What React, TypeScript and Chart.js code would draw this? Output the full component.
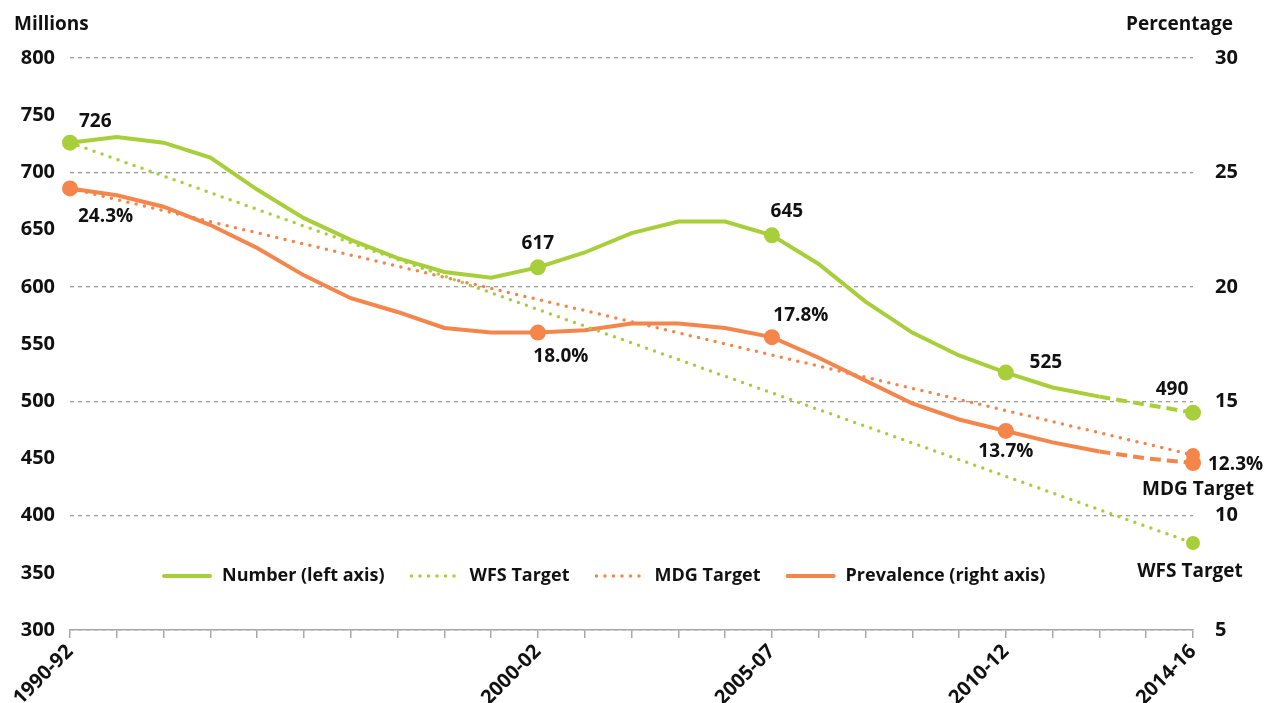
import React, { useEffect, useRef } from "react";
import { Chart, registerables } from "chart.js";

Chart.register(...registerables);

const periods = [
  "1990-92", "1991-93", "1992-94", "1993-95", "1994-96", "1995-97", "1996-98",
  "1997-99", "1998-00", "1999-01", "2000-02", "2001-03", "2002-04", "2003-05",
  "2004-06", "2005-07", "2006-08", "2007-09", "2008-10", "2009-11", "2010-12",
  "2011-13", "2012-14", "2013-15", "2014-16",
];
const labelledPeriods = ["1990-92", "2000-02", "2005-07", "2010-12", "2014-16"];

const numberMillions = [
  726, 731, 726, 713, 685, 660, 641, 625, 613, 608, 617, 630, 647, 657, 657,
  645, 620, 587, 560, 540, 525, 512, 504, 497, 490,
];
const prevalencePct = [
  24.3, 24.0, 23.5, 22.7, 21.7, 20.5, 19.5, 18.9, 18.2, 18.0, 18.0, 18.1, 18.4,
  18.4, 18.2, 17.8, 16.9, 15.9, 14.9, 14.2, 13.7, 13.2, 12.8, 12.5, 12.3,
];
const wfsTargetMillions = [
  726, null, null, null, null, null, null, null, null, null, null, null, null,
  null, null, null, null, null, null, null, null, null, null, null, 376,
];
const mdgTargetPct = [
  24.3, null, null, null, null, null, null, null, null, null, null, null, null,
  null, null, null, null, null, null, null, null, null, null, null, 12.65,
];

const seriesNames = ["Number (left axis)", "WFS Target", "MDG Target", "Prevalence (right axis)"];
const markedPeriods = ["1990-92", "2000-02", "2005-07", "2010-12", "2014-16"];
const projectionFrom = "2012-14";

const leftTitle = "Millions";
const rightTitle = "Percentage";
const leftMin = 300, leftMax = 800, leftStep = 50;
const rightMin = 5, rightMax = 30, rightStep = 5;

const GREEN = "#A8CE3A";
const ORANGE = "#F4854B";
const GRID = "#9d9d9d";
const AXIS = "#a8a8a8";
const TEXT = "#111111";
const FONT = "'Open Sans', 'Noto Sans', sans-serif";

const markedIdx = markedPeriods.map((p) => periods.indexOf(p));
const projIdx = periods.indexOf(projectionFrom);
const lastIdx = periods.length - 1;

const textPlugin = {
  id: "textPlugin",
  afterDraw(chart: any) {
    const { ctx, chartArea } = chart;
    ctx.save();
    ctx.fillStyle = TEXT;
    ctx.textBaseline = "middle";

    // axis titles
    ctx.font = `bold 19px ${FONT}`;
    ctx.textAlign = "left";
    ctx.fillText(leftTitle, 14, 25);
    ctx.textAlign = "right";
    ctx.fillText(rightTitle, 1233, 25);

    // point labels
    const numMeta = chart.getDatasetMeta(0);
    const wfsMeta = chart.getDatasetMeta(1);
    const mdgMeta = chart.getDatasetMeta(2);
    const prevMeta = chart.getDatasetMeta(3);
    ctx.font = `bold 19px ${FONT}`;
    const numOffsets: [number, number, string][] = [
      [9, -21, "left"], [0, -24, "center"], [15, -24, "center"], [40, -10, "center"], [-21, -23, "center"],
    ];
    const prevOffsets: [number, number, string][] = [
      [8, 28, "left"], [23, 24, "center"], [29, -22, "center"], [0, 21, "center"], [15, 2, "left"],
    ];
    markedIdx.forEach((idx, k) => {
      const p = numMeta.data[idx];
      const [dx, dy, al] = numOffsets[k];
      ctx.textAlign = al;
      ctx.fillText(String(numberMillions[idx]), p.x + dx, p.y + dy);
      const q = prevMeta.data[idx];
      const [ex, ey, bl] = prevOffsets[k];
      ctx.textAlign = bl;
      ctx.fillText(prevalencePct[idx].toFixed(1) + "%", q.x + ex, q.y + ey);
    });
    const mp = mdgMeta.data[lastIdx];
    ctx.textAlign = "center";
    ctx.fillText(seriesNames[2], mp.x + 5, mp.y + 35);
    const wp = wfsMeta.data[lastIdx];
    ctx.fillText(seriesNames[1], wp.x - 3, wp.y + 29);

    // inline legend
    ctx.font = `bold 18px ${FONT}`;
    ctx.textAlign = "left";
    const ly = chartArea.bottom - 54;
    let x = chartArea.left + 92;
    const styles = [
      { color: GREEN, dotted: false },
      { color: GREEN, dotted: true },
      { color: ORANGE, dotted: true },
      { color: ORANGE, dotted: false },
    ];
    seriesNames.forEach((name, i) => {
      const st = styles[i];
      ctx.save();
      ctx.strokeStyle = st.color;
      ctx.lineWidth = st.dotted ? 3.5 : 4;
      ctx.lineCap = "round";
      if (st.dotted) ctx.setLineDash([0, 8.5]);
      ctx.beginPath();
      ctx.moveTo(x + 2, ly);
      ctx.lineTo(x + 48, ly);
      ctx.stroke();
      ctx.restore();
      ctx.fillStyle = TEXT;
      const w = ctx.measureText(name).width;
      ctx.fillText(name, x + 60, ly);
      x += 60 + w + 25;
    });
    ctx.restore();
  },
};

export default function App() {
  const ref = useRef<HTMLCanvasElement>(null);
  useEffect(() => {
    if (!ref.current) return;
    const tickFont = { family: FONT, size: 20, weight: "bold" as const };
    const chart = new Chart(ref.current, {
      type: "line",
      data: {
        labels: periods,
        datasets: [
          {
            label: seriesNames[0],
            data: numberMillions,
            yAxisID: "yL",
            borderColor: GREEN,
            backgroundColor: GREEN,
            borderWidth: 4,
            tension: 0,
            pointRadius: (c: any) => (markedIdx.includes(c.dataIndex) ? 8 : 0),
            pointBorderWidth: 0,
            pointHoverRadius: 0,
            segment: {
              borderDash: (c: any) => (c.p0DataIndex >= projIdx ? [11, 6] : undefined),
            },
          },
          {
            label: seriesNames[1],
            data: wfsTargetMillions,
            yAxisID: "yL",
            spanGaps: true,
            borderColor: GREEN,
            backgroundColor: GREEN,
            borderWidth: 3.5,
            borderDash: [0, 8.5],
            borderCapStyle: "round",
            pointRadius: (c: any) => (c.dataIndex === lastIdx ? 7 : 0),
            pointBorderWidth: 0,
            pointHoverRadius: 0,
          },
          {
            label: seriesNames[2],
            data: mdgTargetPct,
            yAxisID: "yR",
            spanGaps: true,
            borderColor: ORANGE,
            backgroundColor: ORANGE,
            borderWidth: 3.5,
            borderDash: [0, 8.5],
            borderCapStyle: "round",
            pointRadius: (c: any) => (c.dataIndex === lastIdx ? 7 : 0),
            pointBorderWidth: 0,
            pointHoverRadius: 0,
          },
          {
            label: seriesNames[3],
            data: prevalencePct,
            yAxisID: "yR",
            borderColor: ORANGE,
            backgroundColor: ORANGE,
            borderWidth: 4,
            tension: 0,
            pointRadius: (c: any) => (markedIdx.includes(c.dataIndex) ? 8 : 0),
            pointBorderWidth: 0,
            pointHoverRadius: 0,
            segment: {
              borderDash: (c: any) => (c.p0DataIndex >= projIdx ? [11, 6] : undefined),
            },
          },
        ],
      },
      options: {
        responsive: false,
        animation: false,
        devicePixelRatio: 1,
        layout: { padding: { top: 58, left: 0, right: 0, bottom: 0 } },
        plugins: { legend: { display: false }, tooltip: { enabled: false } },
        scales: {
          x: {
            type: "category",
            offset: false,
            grid: {
              display: true,
              drawOnChartArea: false,
              drawTicks: true,
              tickLength: 8,
              color: AXIS,
              lineWidth: 1.5,
            },
            border: { display: true, color: AXIS, width: 1.5 },
            ticks: {
              autoSkip: false,
              maxRotation: 45,
              minRotation: 45,
              padding: 2,
              color: TEXT,
              font: tickFont,
              callback: (_v: any, i: number) =>
                labelledPeriods.includes(periods[i]) ? periods[i] : "",
            },
            afterFit: (s: any) => {
              s.height = 73;
            },
          },
          yL: {
            position: "left",
            min: leftMin,
            max: leftMax,
            ticks: { stepSize: leftStep, padding: 15, color: TEXT, font: tickFont },
            grid: { display: false, drawTicks: false },
            border: { display: false },
            afterFit: (s: any) => {
              s.width = 70;
            },
          },
          yR: {
            position: "right",
            min: rightMin,
            max: rightMax,
            ticks: { stepSize: rightStep, padding: 22, color: TEXT, font: tickFont },
            grid: { display: true, drawTicks: false, color: GRID, lineWidth: 1.3 },
            border: { display: false, dash: [4, 4] },
            afterFit: (s: any) => {
              s.width = 77;
            },
          },
        },
      },
      plugins: [textPlugin],
    });
    return () => chart.destroy();
  }, []);
  return (
    <div style={{ position: "fixed", left: 0, top: 0, width: 1270, height: 703, background: "#fff" }}>
      <canvas ref={ref} width={1270} height={703} style={{ display: "block" }} />
    </div>
  );
}
